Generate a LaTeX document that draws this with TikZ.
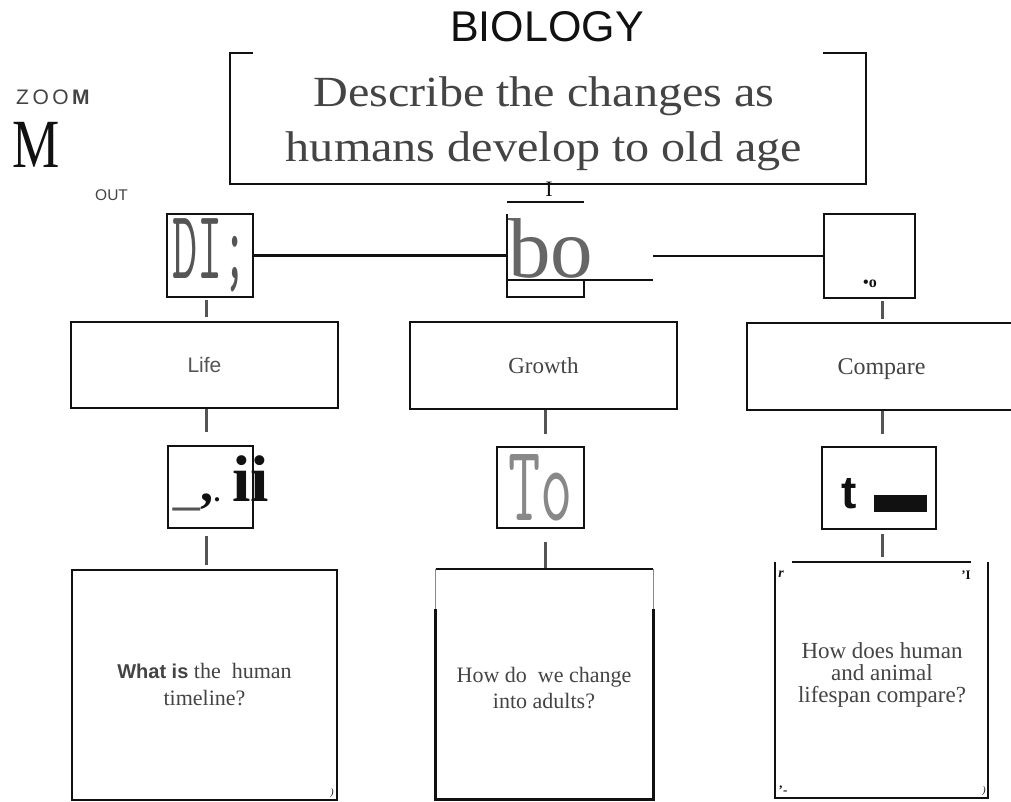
\documentclass[tikz,border=0pt]{standalone}
\usepackage{fontspec}
\setmainfont{Liberation Serif}
\setsansfont{Liberation Sans}
\usetikzlibrary{calc}
\definecolor{ink}{HTML}{111111}
\definecolor{txt}{HTML}{444444}
\definecolor{stubc}{HTML}{555555}
\definecolor{bogray}{HTML}{666666}
\definecolor{togray}{HTML}{888888}
\newcommand\myfsb[2]{\fontsize{#1}{#2}\selectfont}
\begin{document}
\begin{tikzpicture}[x=1pt,y=-1pt,
  frame/.style={draw=ink,line width=2.5pt,rectangle,inner sep=0pt},
  bare/.style={rectangle,inner sep=0pt},
  conn/.style={draw=ink,line width=2.2pt},
  stub/.style={draw=stubc,line width=3pt},
  thinside/.style={draw=togray,line width=1.2pt},
  cornermark/.style={inner sep=0pt,text=ink}]
\fill[white] (0,0) rectangle (1011,802);
\useasboundingbox (0,0) rectangle (1011,802);

% columns for stubs
\coordinate (c1) at (206,0);
\coordinate (c2) at (545,0);
\coordinate (c3) at (882,0);

% title and question
\node[anchor=base, inner sep=0pt, font=\sffamily\myfsb{43}{43}, text=ink] (title) at (547,42) {BIOLOGY};
\node[bare, minimum width=636pt, minimum height=131pt] (qbox) at (548,118.5) {};
\node[inner sep=0pt, align=center, font=\myfsb{43}{55}, text=txt, xscale=1.12, transform shape] (qtext) at (544,123.5)
   {Describe the changes as\\humans develop to old age};
\draw[conn, line width=2.5pt] ($(qbox.north west)+(23,0)$) -- (qbox.north west) -- (qbox.south west)
   -- (qbox.south east) -- (qbox.north east) -- ++(-43,0);
\node[anchor=base, inner sep=0pt, font=\myfsb{22}{22}, text=ink] (ibar) at (549,197) {I};
\coordinate (il) at (507,202);
\coordinate (ir) at (584,202);
\draw[conn, line width=2pt] (il) -- (ir);

% zoom labels
\node[anchor=base west, inner sep=0pt, font=\sffamily\myfsb{21}{21}, text=txt] (zoom) at (16,105) {Z\,O\,O\,\textbf{M}};
\node[anchor=base west, inner sep=0pt, font=\myfsb{69}{69}, text=ink] (bigm) at (12,168) {\scalebox{0.77}[1]{M}};
\node[anchor=base west, inner sep=0pt, font=\sffamily\myfsb{15.5}{15.5}, text=txt] (out) at (95,201) {OUT};

% top row
\node[frame, minimum width=86pt, minimum height=83pt, font=\ttfamily\myfsb{98}{98}, text=stubc] (dib) at (210,255.5)
   {\scalebox{0.5}[1]{DI;}};
\node[bare, minimum width=77pt, minimum height=83pt] (bo) at (545.5,255.5) {};
\node[anchor=base west, inner sep=0pt, font=\myfsb{85}{85}, text=bogray] (botext) at (508,277) {bo};
\draw[conn] (bo.north west) -- (bo.south west) -- (bo.south east) -- ++(0,-17);
\coordinate (boend) at (653,280);
\draw[conn] (bo.west |- boend) -- (boend);
\coordinate (rstart) at (653,256);
\node[frame, minimum width=91pt, minimum height=84pt] (rb) at (869.5,256) {};
\node[inner sep=0pt, font=\bfseries\myfsb{16}{16}, text=ink] (rbtext) at (870,284) {•o};
\draw[conn] (dib.east) -- (bo.west);
\draw[conn] (rstart) -- (rb.west);

% middle row
\node[frame, minimum width=267pt, minimum height=86pt, font=\sffamily\myfsb{21}{21}, text=stubc] (life) at (204.5,365) {\raisebox{-2pt}{Life}};
\node[frame, minimum width=267pt, minimum height=87pt, font=\myfsb{23}{23}, text=txt] (growth) at (543.5,365.5) {\raisebox{-2pt}{Growth}};
\node[frame, minimum width=269pt, minimum height=87pt, font=\myfsb{24}{24}, text=txt, text depth=0pt] (cmp) at (881.5,366.5) {Compare};

% third row
\node[frame, minimum width=85pt, minimum height=82pt] (ic) at (210.5,487) {};
\node[anchor=base west, inner sep=0pt, text=ink] (ictext) at (173,501)
   {\textcolor{stubc}{\sffamily\myfsb{48}{48}\_}\hspace{1pt}{\bfseries\myfsb{52}{52},}{\bfseries\myfsb{26}{26}.}\hspace{12pt}{\bfseries\myfsb{66}{66}ii}};
\node[frame, line width=2pt, minimum width=87pt, minimum height=81pt, font=\ttfamily\myfsb{108}{108}, text=togray] (to) at (540.5,487.5)
   {\scalebox{0.58}[1]{To}};
\node[frame, minimum width=114pt, minimum height=82pt] (tb) at (879,488) {};
\node[anchor=base west, inner sep=0pt, font=\sffamily\bfseries\myfsb{46}{46}, text=ink] (ttext) at (841,508) {t};
\fill[ink] (874,495) rectangle (927,512);

% bottom row
\node[frame, minimum width=265pt, minimum height=230pt, align=center, font=\myfsb{22}{27}, text=txt] (lq) at (204.5,685)
   {{\sffamily\bfseries\myfsb{20}{27}What is} the\ \ human\\timeline?};
\node[bare, minimum width=217pt, minimum height=230pt] (gq) at (544.5,684) {};
\node[inner sep=0pt, align=center, font=\myfsb{22}{26}, text=txt] (gqtext) at (544,688)
   {How do\ \ we change\\into adults?};
\draw[conn, line width=2.5pt] (gq.north west) -- (gq.north east);
\draw[thinside] (gq.north west) -- ++(0,40);
\draw[thinside] (gq.north east) -- ++(0,40);
\draw[conn, line width=2.8pt] ($(gq.north west)+(0,40)$) -- (gq.south west) -- (gq.south east) -- ($(gq.north east)+(0,40)$);
\node[bare, minimum width=213pt, minimum height=236pt] (cq) at (881.5,680) {};
\node[inner sep=0pt, align=center, font=\myfsb{23}{22}, text=txt] (cqtext) at (882,675)
   {How does human\\and animal\\lifespan compare?};
\draw[conn, line width=2.5pt] ($(cq.north west)+(17,0)$) -- ($(cq.north east)+(-17,0)$);
\draw[conn, line width=2.5pt] (cq.north west) -- (cq.south west) -- (cq.south east) -- (cq.north east);
\node[cornermark, font=\bfseries\itshape\myfsb{14}{14}] (m1) at (781,574) {r};
\node[cornermark, font=\bfseries\myfsb{13}{13}] (m2) at (966,575) {'I};
\node[cornermark, font=\bfseries\myfsb{13}{13}] (m3) at (783,790) {'-};
\node[cornermark, font=\itshape\myfsb{10}{10}] (m4) at (984,791) {)};
\node[cornermark, font=\itshape\myfsb{10}{10}] (m5) at (332,793) {)};

% stubs
\draw[stub, shorten <=2pt, shorten >=4pt] (dib.south -| c1) -- (life.north -| c1);
\draw[stub, shorten >=13pt] (life.south -| c1) -- (ic.north -| c1);
\draw[stub, shorten <=7pt, shorten >=4pt] (ic.south -| c1) -- (lq.north -| c1);
\draw[stub, shorten >=12pt] (growth.south -| c2) -- (to.north -| c2);
\draw[stub, shorten <=13pt, shorten >=1pt] (to.south -| c2) -- (gq.north -| c2);
\draw[stub, shorten <=2pt, shorten >=3pt] (rb.south -| c3) -- (cmp.north -| c3);
\draw[stub, shorten >=12pt] (cmp.south -| c3) -- (tb.north -| c3);
\draw[stub, shorten <=4pt, shorten >=5pt] (tb.south -| c3) -- (cq.north -| c3);
\end{tikzpicture}
\end{document}
